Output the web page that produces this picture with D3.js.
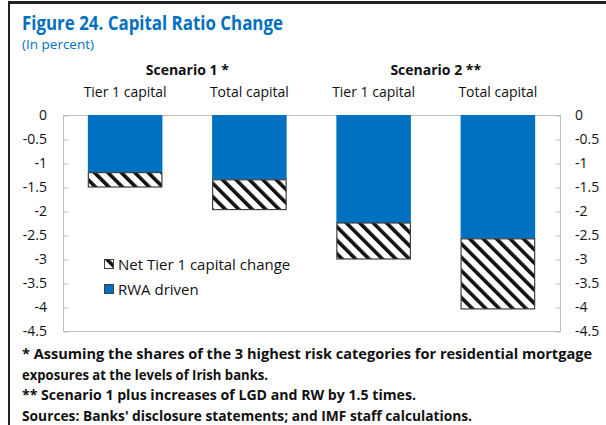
<!DOCTYPE html>
<html>
<head>
<meta charset="utf-8">
<script src="https://cdn.jsdelivr.net/npm/d3@7"></script>
<style>
  body { margin: 0; background: #fff; }
  svg { display: block; font-family: "Open Sans", sans-serif; }
</style>
</head>
<body>
<div id="chart"></div>
<script>
// data
const categories = ["Tier 1 capital", "Total capital", "Tier 1 capital", "Total capital"];
const scenarios = ["Scenario 1 *", "Scenario 2 **"];
const rwaDriven = [-1.2, -1.35, -2.25, -2.58];
const netTier1 = [-0.3, -0.62, -0.75, -1.46];
const yTicks = [0, -0.5, -1, -1.5, -2, -2.5, -3, -3.5, -4, -4.5];
const footnotes = [
  "* Assuming the shares of the 3 highest risk categories for residential mortgage",
  "exposures at the levels of Irish banks.",
  "** Scenario 1 plus increases of LGD and RW by 1.5 times.",
  "Sources: Banks' disclosure statements; and IMF staff calculations."
];
// widths the footnote lines take up in the original
const footnoteWidths = [570, 246, 394, 450];

const width = 606, height = 425;
const plot = { left: 63, right: 560, top: 115, bottom: 331 };
const blue = "#0070C0";

const svg = d3.select("#chart").append("svg")
  .attr("width", width)
  .attr("height", height);

// hatch pattern (diagonal "\" stripes)
const step = 9.5;
const defs = svg.append("defs");
const pat = defs.append("pattern")
  .attr("id", "hatch")
  .attr("patternUnits", "userSpaceOnUse")
  .attr("width", step)
  .attr("height", step)
  .attr("patternTransform", "rotate(-45)");
pat.append("rect").attr("width", step).attr("height", step).attr("fill", "#fff");
pat.append("rect").attr("width", 3.6).attr("height", step).attr("fill", "#111");

// outer frame (top and left only)
svg.append("line").attr("x1", 8).attr("x2", width).attr("y1", 2.5).attr("y2", 2.5)
  .attr("stroke", "#222").attr("stroke-width", 3);
svg.append("line").attr("x1", 9).attr("x2", 9).attr("y1", 1).attr("y2", height)
  .attr("stroke", "#222").attr("stroke-width", 2);

// title
svg.append("text").attr("x", 22).attr("y", 30)
  .attr("fill", blue).attr("font-weight", "bold").attr("font-size", 20)
  .attr("textLength", 261).attr("lengthAdjust", "spacingAndGlyphs")
  .text("Figure 24. Capital Ratio Change");
svg.append("text").attr("x", 22).attr("y", 49)
  .attr("fill", blue).attr("font-size", 13.5)
  .text("(In percent)");

const x = d3.scaleBand()
  .domain(d3.range(categories.length))
  .range([plot.left, plot.right])
  .paddingInner(0.4)
  .paddingOuter(0.2);

const y = d3.scaleLinear()
  .domain([0, -4.5])
  .range([plot.top, plot.bottom]);

// plot border
svg.append("rect")
  .attr("x", plot.left + 0.5).attr("y", plot.top + 0.5)
  .attr("width", plot.right - plot.left).attr("height", plot.bottom - plot.top)
  .attr("fill", "none").attr("stroke", "#bfbfbf");

// axes
const leftAxis = svg.append("g")
  .attr("transform", `translate(${plot.left + 0.5},0.5)`)
  .call(d3.axisRight(y).tickValues(yTicks).tickSize(5).tickFormat(""));
const rightAxis = svg.append("g")
  .attr("transform", `translate(${plot.right + 0.5},0.5)`)
  .call(d3.axisLeft(y).tickValues(yTicks).tickSize(5).tickFormat(""));
[leftAxis, rightAxis].forEach(g => {
  g.select(".domain").remove();
  g.selectAll("line").attr("stroke", "#bfbfbf");
});

const fmt = d => String(d);
svg.append("g").selectAll("text")
  .data(yTicks).join("text")
  .attr("x", 47).attr("y", d => y(d) + 5)
  .attr("text-anchor", "end").attr("font-size", 14).attr("fill", "#111")
  .text(fmt);
svg.append("g").selectAll("text")
  .data(yTicks).join("text")
  .attr("x", 575).attr("y", d => y(d) + 5)
  .attr("text-anchor", "start").attr("font-size", 14).attr("fill", "#111")
  .text(fmt);

// bars
const bars = svg.append("g");
bars.selectAll("rect.rwa")
  .data(rwaDriven).join("rect")
  .attr("class", "rwa")
  .attr("x", (d, i) => x(i))
  .attr("y", y(0))
  .attr("width", x.bandwidth())
  .attr("height", d => y(d) - y(0))
  .attr("fill", blue);
bars.selectAll("rect.net")
  .data(netTier1).join("rect")
  .attr("class", "net")
  .attr("x", (d, i) => x(i) + 0.5)
  .attr("y", (d, i) => y(rwaDriven[i]))
  .attr("width", x.bandwidth() - 1)
  .attr("height", (d, i) => y(rwaDriven[i] + d) - y(rwaDriven[i]))
  .attr("fill", "url(#hatch)")
  .attr("stroke", "#404040").attr("stroke-width", 1.2);

// category labels
svg.append("g").selectAll("text")
  .data(categories).join("text")
  .attr("x", (d, i) => x(i) + x.bandwidth() / 2)
  .attr("y", 97)
  .attr("text-anchor", "middle").attr("font-size", 14).attr("fill", "#111")
  .text(d => d);
svg.append("g").selectAll("text")
  .data(scenarios).join("text")
  .attr("x", (d, i) => (x(2 * i) + x(2 * i + 1) + x.bandwidth()) / 2)
  .attr("y", 75)
  .attr("text-anchor", "middle").attr("font-size", 14).attr("font-weight", "bold").attr("fill", "#111")
  .text(d => d);

// legend
const legend = svg.append("g").attr("transform", "translate(104,259)");
const items = [
  { label: "Net Tier 1 capital change", fill: "url(#hatch)" },
  { label: "RWA driven", fill: blue }
];
const li = legend.selectAll("g").data(items).join("g")
  .attr("transform", (d, i) => `translate(0,${i * 25})`);
li.append("rect").attr("x", 0.5).attr("y", 0.5).attr("width", 9).attr("height", 9)
  .attr("fill", d => d.fill).attr("stroke", "#404040");
li.append("text").attr("x", 14).attr("y", 11)
  .attr("font-size", 15).attr("fill", "#111")
  .text(d => d.label);

// footnotes
svg.append("g").selectAll("text")
  .data(footnotes).join("text")
  .attr("x", 22)
  .attr("y", (d, i) => 359 + i * 20.5)
  .attr("font-size", 13.5).attr("font-weight", "bold").attr("fill", "#111")
  .attr("textLength", (d, i) => footnoteWidths[i])
  .attr("lengthAdjust", "spacingAndGlyphs")
  .text(d => d);
</script>
</body>
</html>
